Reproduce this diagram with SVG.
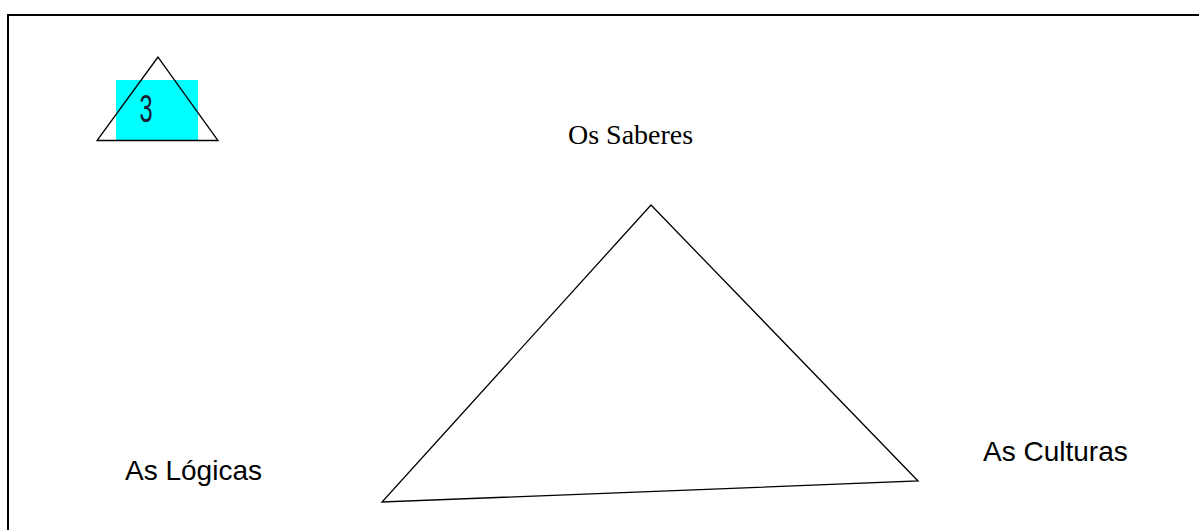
<svg xmlns="http://www.w3.org/2000/svg" width="1199" height="530" viewBox="0 0 1199 530">
<style>
.ln{fill:none;stroke:#000;stroke-width:1.3;stroke-linejoin:miter}
.sans{font-family:"Liberation Sans",Arial,sans-serif;font-size:28px;fill:#000}
.serif{font-family:"Liberation Serif","Times New Roman",serif;font-size:28px;fill:#000}
</style>
<rect width="1199" height="530" fill="#fff"/>
<path d="M8,530 V15 H1199" fill="none" stroke="#000" stroke-width="2"/>
<g id="icon">
<rect x="116" y="80" width="82" height="60" fill="#00ffff"/>
<polygon class="ln" points="158,57 97,140.5 218,140.5"/>
<text x="146" y="122" text-anchor="middle" font-family="Liberation Sans,Arial,sans-serif" font-size="38" transform="translate(146,0) scale(0.62,1) translate(-146,0)" fill="#1a1a33">3</text>
</g>
<g id="triangle">
<polygon class="ln" points="651,205 382,502 918,481"/>
</g>
<g id="saberes"><text class="serif" x="568" y="144">Os Saberes</text></g>
<g id="logicas"><text class="sans" x="125" y="480">As Lógicas</text></g>
<g id="culturas"><text class="sans" x="983" y="461">As Culturas</text></g>
</svg>
